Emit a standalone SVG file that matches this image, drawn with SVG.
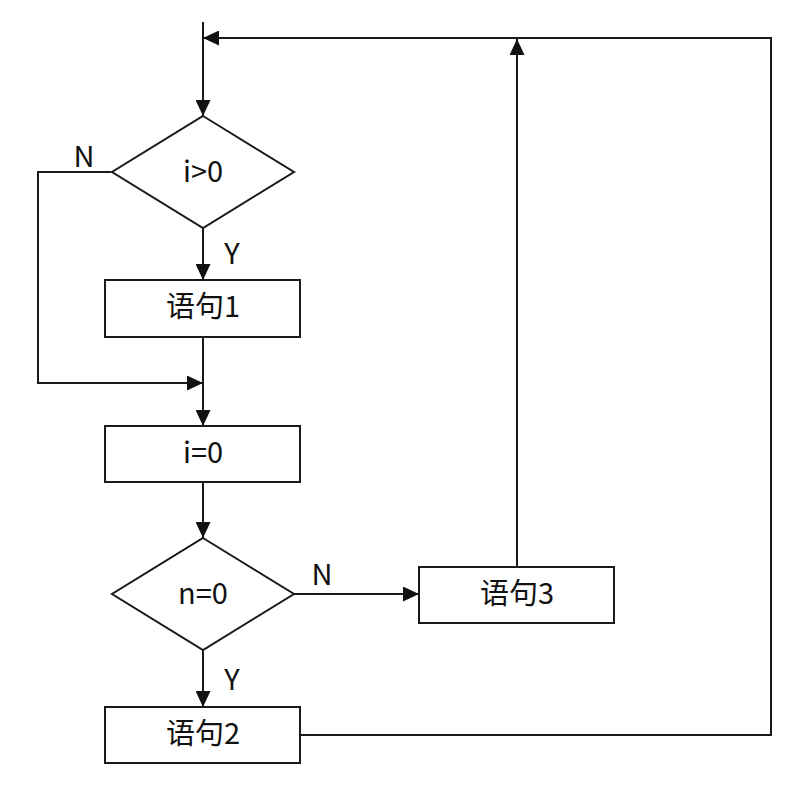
<svg xmlns="http://www.w3.org/2000/svg" width="789" height="789" viewBox="0 0 789 789">
<style>
  .shape { fill: #ffffff; stroke: #1a1a1a; stroke-width: 2; }
  .conn { fill: none; stroke: #1a1a1a; stroke-width: 2; }
  .txt { font-family: "Noto Sans CJK SC", "Noto Sans", sans-serif; font-size: 29px; fill: #111; text-anchor: middle; }
  .lbl { font-family: "Noto Sans CJK SC", "Noto Sans", sans-serif; font-size: 29px; fill: #111; text-anchor: middle; }
</style>
<defs>
  <marker id="arrow" markerUnits="userSpaceOnUse" markerWidth="16" markerHeight="15" refX="16" refY="7.5" orient="auto">
    <path d="M0,0 L16,7.5 L0,15 z" fill="#111"/>
  </marker>
</defs>
<rect width="789" height="789" fill="#ffffff"/>

<g id="connectors">
  <path class="conn" d="M203,22 L203,116" marker-end="url(#arrow)"/>
  <path class="conn" d="M203,228 L203,280" marker-end="url(#arrow)"/>
  <path class="conn" d="M203,337 L203,426" marker-end="url(#arrow)"/>
  <path class="conn" d="M111,172 L38,172 L38,383 L203,383" marker-end="url(#arrow)"/>
  <path class="conn" d="M203,482 L203,538" marker-end="url(#arrow)"/>
  <path class="conn" d="M203,650 L203,707" marker-end="url(#arrow)"/>
  <path class="conn" d="M294,594 L419,594" marker-end="url(#arrow)"/>
  <path class="conn" d="M517,567 L517,39" marker-end="url(#arrow)"/>
  <path class="conn" d="M300,735 L771,735 L771,38 L203,38" marker-end="url(#arrow)"/>
  <text class="lbl" x="84" y="167">N</text>
  <text class="lbl" x="232" y="264">Y</text>
  <text class="lbl" x="322" y="585">N</text>
  <text class="lbl" x="232" y="690">Y</text>
</g>

<g id="cond1">
  <polygon class="shape" points="203,116 294,172 203,228 112,172"/>
  <text class="txt" x="203" y="182">i&gt;0</text>
</g>

<g id="stmt1">
  <rect class="shape" x="105" y="280" width="195" height="57"/>
  <text class="txt" x="203" y="317">语句1</text>
</g>

<g id="assign">
  <rect class="shape" x="105" y="426" width="195" height="56"/>
  <text class="txt" x="203" y="463">i=0</text>
</g>

<g id="cond2">
  <polygon class="shape" points="203,538 294,594 203,650 112,594"/>
  <text class="txt" x="203" y="604">n=0</text>
</g>

<g id="stmt3">
  <rect class="shape" x="419" y="567" width="195" height="56"/>
  <text class="txt" x="517" y="604">语句3</text>
</g>

<g id="stmt2">
  <rect class="shape" x="105" y="707" width="195" height="56"/>
  <text class="txt" x="203" y="744">语句2</text>
</g>
</svg>
